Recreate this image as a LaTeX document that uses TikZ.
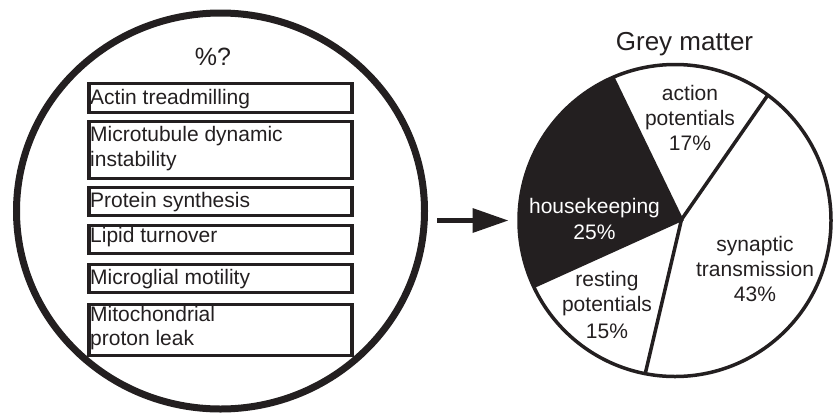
\documentclass[tikz,border=0pt]{standalone}
\usepackage{fontspec}
\setmainfont{Liberation Sans}
\usetikzlibrary{arrows.meta,calc,shapes.geometric}
\definecolor{ink}{RGB}{35,31,32}
\begin{document}
\begin{tikzpicture}[x=1pt,y=1pt,
  txt/.style={inner sep=0pt, text=ink, font=\fontsize{21}{25}\selectfont},
  boxtxt/.style={txt, anchor=base west},
  pietxt/.style={txt, anchor=base},
  itembox/.style={draw=ink, line width=3.5pt, minimum width=263pt, inner sep=0pt, anchor=north west},
  pieline/.style={draw=ink, line width=3.5pt, line join=miter},
  bigarrow/.style={draw=ink, line width=5pt, -{Triangle[length=35.5pt, width=25pt, line width=0pt, fill=ink]}}
]
\useasboundingbox (0,0) rectangle (834,-413);

% left cell
\node[ellipse, draw=ink, line width=7pt, minimum width=408pt, minimum height=396pt, inner sep=0pt] (cell) at (220.5,-211) {};
\node[txt, anchor=base, font=\fontsize{25}{30}\selectfont] (q) at (213,-65) {\%?};

\node[itembox, minimum height=29pt] (b1) at (87,-81.5) {};
\node[itembox, minimum height=57pt] (b2) at (87,-119.5) {};
\node[itembox, minimum height=28pt] (b3) at (87,-185.5) {};
\node[itembox, minimum height=28pt] (b4) at (87,-223.5) {};
\node[itembox, minimum height=28pt] (b5) at (87,-262.5) {};
\node[itembox, minimum height=51pt] (b6) at (87,-302.5) {};

\node[boxtxt] (t1) at (90,-104) {Actin treadmilling};
\node[boxtxt] (t2a) at (90,-141.7) {Microtubule dynamic};
\node[boxtxt] (t2b) at (90,-166.7) {instability};
\node[boxtxt] (t3) at (90,-207.7) {Protein synthesis};
\node[boxtxt] (t4) at (90,-242.3) {Lipid turnover};
\node[boxtxt] (t5) at (90,-284) {Microglial motility};
\node[boxtxt] (t6a) at (90,-321) {Mitochondrial};
\node[boxtxt] (t6b) at (90,-345) {proton leak};

% pie
\coordinate (pc) at (675,-220.5);
\coordinate (pv) at (681.5,-219.5);
\fill[ink] (pv) -- ($(pc)+(113.5:156)$) arc[start angle=113.5, end angle=205, radius=156] -- cycle;
\draw[pieline] ($(pc)+(53.5:156)$) -- (pv) -- ($(pc)+(259:156)$);
\draw[pieline] ($(pc)+(113.5:156)$) -- (pv) -- ($(pc)+(205:156)$);
\node[circle, draw=ink, line width=3.5pt, minimum size=312pt, inner sep=0pt] (pie) at (pc) {};

\node[txt, anchor=base, font=\fontsize{26}{31}\selectfont] (title) at (684.5,-50) {Grey matter};

\node[pietxt] (a1) at (690,-100) {action};
\node[pietxt] (a2) at (690,-125.3) {potentials};
\node[pietxt] (a3) at (690,-150.6) {17\%};

\node[pietxt, text=white] (h1) at (594.5,-213.3) {housekeeping};
\node[pietxt, text=white] (h2) at (594.5,-239) {25\%};

\node[pietxt] (s1) at (755,-251) {synaptic};
\node[pietxt] (s2) at (755,-276.7) {transmission};
\node[pietxt] (s3) at (755,-301.7) {43\%};

\node[pietxt] (r1) at (607,-286.3) {resting};
\node[pietxt] (r2) at (607,-311.8) {potentials};
\node[pietxt] (r3) at (607,-338) {15\%};

% arrow
\coordinate (as) at (437,-220.5);
\coordinate (ae) at (508,-220.5);
\draw[bigarrow] (as) -- (ae);
\end{tikzpicture}
\end{document}
